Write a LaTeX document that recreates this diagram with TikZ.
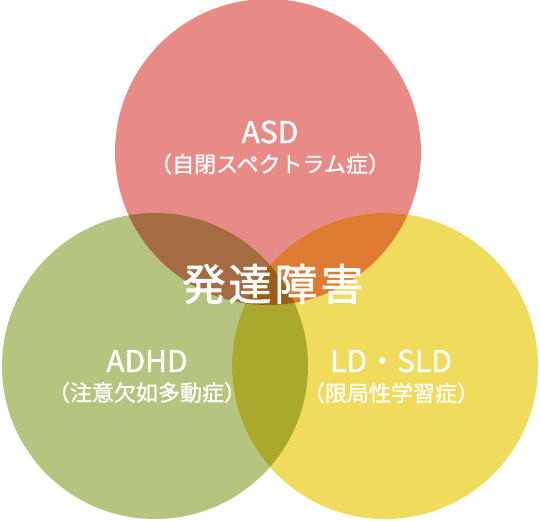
\documentclass[tikz,border=0pt]{standalone}
\usepackage{fontspec}
\setmainfont{Noto Sans CJK JP}
\newfontfamily\jpmed{Noto Sans CJK JP}[FakeBold=1.2]
\newfontfamily\jptitle{Noto Sans CJK JP}[FakeBold=1.8, LetterSpace=7]
\usepackage{xcolor}
\usepackage{tikz}
\usetikzlibrary{positioning}

\definecolor{asdred}{RGB}{232,139,135}
\definecolor{adhdgreen}{RGB}{181,196,127}
\definecolor{ldyellow}{RGB}{240,219,92}
\definecolor{redgreen}{RGB}{165,107,67}
\definecolor{redyellow}{RGB}{222,122,49}
\definecolor{greenyellow}{RGB}{170,169,46}
\definecolor{allthree}{RGB}{155,92,24}

\begin{document}
\begin{tikzpicture}[x=1pt, y=-1pt, node distance=3pt,
    setcircle/.style={circle, minimum size=306pt, inner sep=0pt},
    setlabel/.style={text=white, font=\jpmed\fontsize{30}{30}\selectfont},
    setsub/.style={text=white, font=\jpmed\fontsize{22}{22}\selectfont}]
    \useasboundingbox (0,0) rectangle (540,520);

    \node [setcircle, fill=asdred] (asd) at (268,152) {};
    \node [setcircle, fill=adhdgreen] (adhd) at (155,366) {};
    \node [setcircle, fill=ldyellow] (ld) at (385,366) {};

    % overlaps
    \begin{scope}
        \clip (asd.center) circle [radius=153pt];
        \fill [redgreen] (adhd.center) circle [radius=153pt];
        \fill [redyellow] (ld.center) circle [radius=153pt];
    \end{scope}
    \begin{scope}
        \clip (adhd.center) circle [radius=153pt];
        \fill [greenyellow] (ld.center) circle [radius=153pt];
        \clip (ld.center) circle [radius=153pt];
        \fill [allthree] (asd.center) circle [radius=153pt];
    \end{scope}

    \node [setlabel] (asdname) at (270,132) {ASD};
    \node [setsub, below=of asdname] (asdsub) {（自閉スペクトラム症）};
    \node [setlabel] (adhdname) at (147,361) {ADHD};
    \node [setsub, below=of adhdname] (adhdsub) {（注意欠如多動症）};
    \node [setlabel] (ldname) at (391,361) {LD・SLD};
    \node [setsub, below=of ldname] (ldsub) {（限局性学習症）};
    \node [text=white, font=\jptitle\fontsize{43}{43}\selectfont] (dd) at (273,284) {発達障害};
\end{tikzpicture}
\end{document}
